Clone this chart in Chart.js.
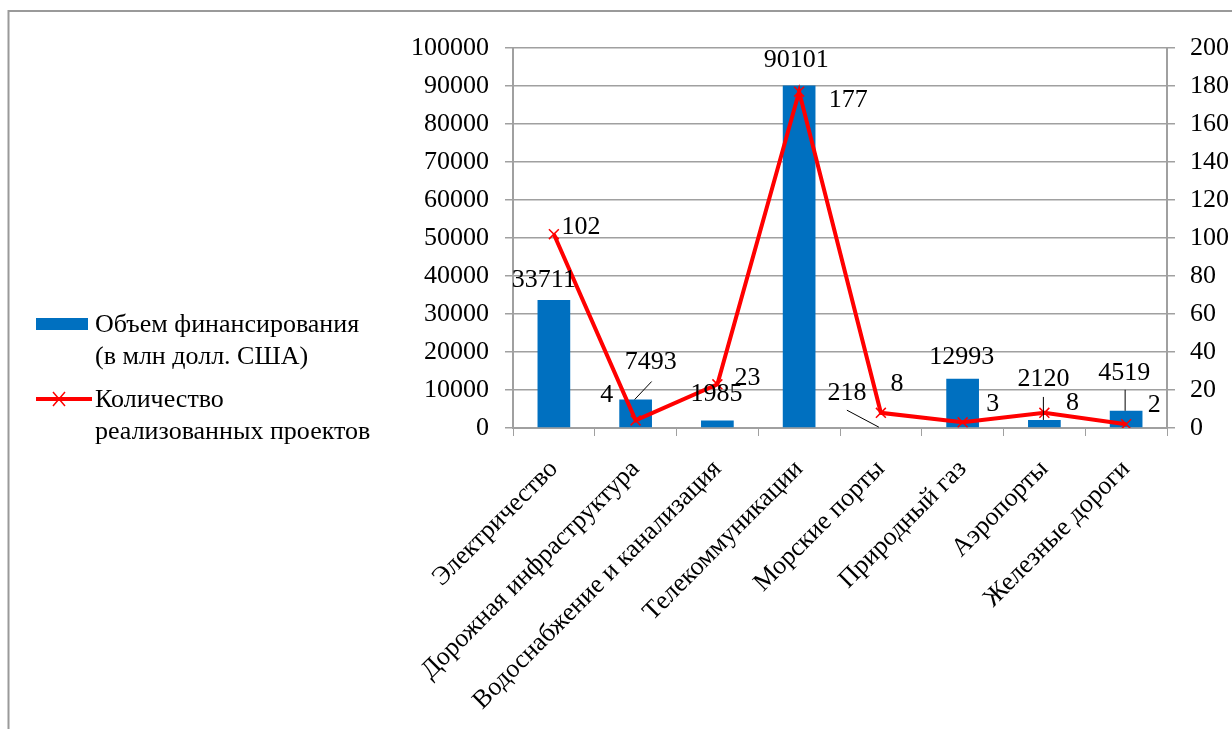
<!DOCTYPE html>
<html>
<head>
<meta charset="utf-8">
<script src="https://cdn.jsdelivr.net/npm/chart.js@4"></script>
<style>
  html, body { margin: 0; padding: 0; background: #fff; }
  #wrap { position: relative; width: 1232px; height: 729px; }
  #legend { position: absolute; left: 36px; top: 308px; font-family: 'Liberation Serif', 'Times New Roman', serif; font-size: 26px; color: #000; }
  .item { position: relative; padding-left: 59px; line-height: 32px; margin-bottom: 11px; }
  .swatch { position: absolute; left: 0; }
</style>
</head>
<body>
<div id="wrap">
  <canvas id="chart" width="1232" height="729"></canvas>
  <div id="legend"></div>
</div>
<script>
const categories = [
  'Электричество',
  'Дорожная инфраструктура',
  'Водоснабжение и канализация',
  'Телекоммуникации',
  'Морские порты',
  'Природный газ',
  'Аэропорты',
  'Железные дороги',
];
const funding = [33711, 7493, 1985, 90101, 218, 12993, 2120, 4519];
const projects = [102, 4, 23, 177, 8, 3, 8, 2];
const fundingLabel = ['Объем финансирования', '(в млн долл. США)'];
const projectsLabel = ['Количество', 'реализованных проектов'];

const FONT = "'Liberation Serif', 'Times New Roman', serif";
const BLUE = '#0070c0';
const RED = '#ff0000';
const GRID = '#a0a0a0';

// label placement (pixel offsets from the mark)
const barLabelOffsets = [[-10, -20], [15, -37], [-1, -26], [-3, -25], [-34, -34], [-1, -21], [-1, -41], [-2, -38]];
const barLeaders = { 1: [[16, -18], [-1, 0]], 4: [[-34, -17], [-2, 0]], 6: [[-1, -23], [-1, 0]], 7: [[-1, -21], [-1, 0]] };
const lineLabelOffsets = [[27, -7], [-29, -25], [30, -6], [49, 8], [16, -29], [30, -18], [28, -10], [28, -19]];

const extras = {
  id: 'extras',
  beforeDraw(chart) {
    const ctx = chart.ctx;
    ctx.save();
    ctx.strokeStyle = '#9a9a9a';
    ctx.lineWidth = 2;
    ctx.beginPath();
    ctx.moveTo(8.5, 729);
    ctx.lineTo(8.5, 11);
    ctx.lineTo(1232, 11);
    ctx.stroke();
    ctx.restore();
  },
  afterDatasetsDraw(chart) {
    const ctx = chart.ctx;
    ctx.save();
    ctx.font = '26px ' + FONT;
    ctx.fillStyle = '#000';
    ctx.textAlign = 'center';
    ctx.textBaseline = 'middle';
    const bars = chart.getDatasetMeta(0).data;
    bars.forEach((el, i) => {
      const [dx, dy] = barLabelOffsets[i];
      ctx.fillText(String(funding[i]), el.x + dx, el.y + dy);
      if (barLeaders[i]) {
        const [a, b] = barLeaders[i];
        ctx.strokeStyle = '#000';
        ctx.lineWidth = 1;
        ctx.beginPath();
        ctx.moveTo(el.x + a[0], el.y + a[1]);
        ctx.lineTo(el.x + b[0], el.y + b[1]);
        ctx.stroke();
      }
    });
    const pts = chart.getDatasetMeta(1).data;
    pts.forEach((el, i) => {
      const [dx, dy] = lineLabelOffsets[i];
      ctx.fillText(String(projects[i]), el.x + dx, el.y + dy);
    });
    ctx.restore();
  }
};

new Chart(document.getElementById('chart'), {
  data: {
    labels: categories,
    datasets: [
      {
        type: 'bar',
        label: fundingLabel.join(' '),
        data: funding,
        backgroundColor: BLUE,
        yAxisID: 'y',
        categoryPercentage: 1,
        barPercentage: 0.4,
        order: 2,
      },
      {
        type: 'line',
        label: projectsLabel.join(' '),
        data: projects,
        borderColor: RED,
        borderWidth: 4,
        pointStyle: 'crossRot',
        pointRadius: 7,
        pointBorderWidth: 1.5,
        pointBorderColor: RED,
        pointBackgroundColor: RED,
        yAxisID: 'y1',
        tension: 0,
        order: 1,
      },
    ],
  },
  options: {
    responsive: false,
    animation: false,
    layout: { padding: { left: 398, top: 48, right: 0, bottom: 0 } },
    plugins: {
      legend: { display: false },
      tooltip: { enabled: false },
    },
    scales: {
      x: {
        grid: { display: true, drawOnChartArea: false, color: GRID, tickLength: 8, offset: true },
        border: { color: GRID, width: 2 },
        ticks: {
          autoSkip: false, minRotation: 45, maxRotation: 45,
          color: '#000', font: { family: FONT, size: 26 }, padding: 18,
        },
        afterFit(scale) { scale.height = 301; },
      },
      y: {
        position: 'left',
        min: 0, max: 100000,
        grid: { color: GRID, lineWidth: 1.5, tickLength: 8 },
        border: { color: GRID, width: 2 },
        ticks: {
          stepSize: 10000, color: '#000', font: { family: FONT, size: 26 }, padding: 16,
          callback: (v) => String(v),
        },
        afterFit(scale) { scale.width = 115; },
      },
      y1: {
        position: 'right',
        min: 0, max: 200,
        grid: { drawOnChartArea: false, color: GRID, lineWidth: 1.5, tickLength: 8 },
        border: { color: GRID, width: 2 },
        ticks: {
          stepSize: 20, color: '#000', font: { family: FONT, size: 26 }, padding: 15,
          callback: (v) => String(v),
        },
        afterFit(scale) { scale.width = 65; },
      },
    },
  },
  plugins: [extras],
});

// legend
const legend = document.getElementById('legend');
function addItem(lines, swatchHtml) {
  const item = document.createElement('div');
  item.className = 'item';
  item.innerHTML = swatchHtml + lines.join('<br>');
  legend.appendChild(item);
}
addItem(fundingLabel, `<span class="swatch" style="top:10px;width:52px;height:12px;background:${BLUE}"></span>`);
addItem(projectsLabel, `<svg class="swatch" style="top:6px" width="56" height="20"><line x1="0" y1="10" x2="56" y2="10" stroke="${RED}" stroke-width="4"/><path d="M17 3 L29 17 M29 3 L17 17" stroke="${RED}" stroke-width="1.5"/></svg>`);
</script>
</body>
</html>
